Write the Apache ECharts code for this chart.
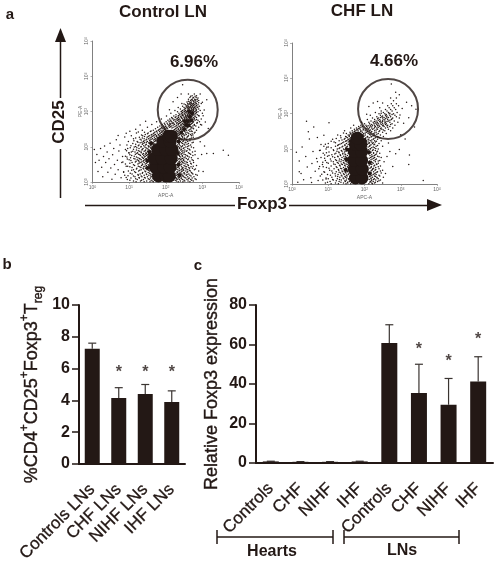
<!DOCTYPE html>
<html>
<head>
<meta charset="utf-8">
<style>
html, body { margin: 0; padding: 0; background: #fff; }
#chart { width: 498px; height: 566px; }
</style>
<script src="https://cdn.jsdelivr.net/npm/echarts@6/dist/echarts.min.js"></script>
</head>
<body>
<div id="chart"></div>
<script>
// flow plots: positions in decades (log10 of the signal)
const controlCore = [[1.8,.17],[2.0,.17],[2.1,.17],[1.72,.42],[1.95,.42],[2.12,.42],[1.68,.67],[1.9,.67],[2.15,.67],[1.78,.92],[2.0,.92],[2.17,.92],[1.92,1.15],[2.12,1.15],[2.08,1.3],[2.15,1.3]];
const controlMid = [[2.42,1.4],[2.5,1.5],[2.55,1.62],[2.6,1.72],[2.66,1.85],[2.72,1.95],[2.62,1.6],[2.7,1.75],[2.52,1.72],[2.64,2.0],[1.5,.6],[1.5,.4],[1.55,.85],[1.6,1.1],[2.35,.5],[2.33,.8],[2.35,1.15],[2.38,.2]];
const controlDots = [
[.05,.92],[.08,.55],[.12,.78],[.15,.3],[.18,.62],[.22,.95],[.25,.42],[.28,.15],[.3,.72],[.33,1.02],[.36,.55],[.4,.85],[.42,.28],[.45,.66],[.48,1.1],[.5,.4],[.53,.08],[.55,.77],[.58,.95],[.6,.5],[.62,.22],[.65,1.2],[.68,.62],[.7,.35],[.72,.88],[.75,1.05],[.78,.12],[.8,.55],[.82,.72],[.85,.28],[.88,1.28],[.9,.92],[.92,.45],[.95,.65],[.97,.18],[1.0,.82],
[3.12,.81],[3.3,.81],[3.57,.9],[3.71,.76],[2.46,2.76],[3.12,2.33],[2.2,2.28],[2.32,2.4],[2.1,2.05],[2.42,2.5],[.7,1.32],[.92,1.38],[1.02,1.44],[1.18,1.5],[1.3,1.62],[1.45,1.72],[1.25,1.42],[3.02,1.88],[3.05,2.04],[3.08,1.7],[3.16,1.52],[3.0,2.26],[2.98,1.62],[2.94,2.5],[3.06,1.02],[3.02,.3],[2.98,.78],[2.94,1.14]
];
// dense halo, one row per line: y first, then the x of the dots on that row
const controlRows = [
[.03,1.12,1.31,1.48,1.63,2.29,2.4,2.52,2.61,2.75],
[.07,.95,1.22,1.39,1.55,1.69,2.31,2.37,2.46,2.58,2.68,2.83],
[.11,1.05,1.28,1.44,1.58,1.7,2.28,2.35,2.43,2.55,2.64,2.72],
[.15,1.16,1.35,1.5,1.62,2.33,2.41,2.49,2.6,2.77],
[.19,.88,1.25,1.41,1.54,1.66,2.3,2.38,2.47,2.56,2.66,2.86],
[.23,1.08,1.3,1.47,1.59,2.34,2.44,2.52,2.63,2.74],
[.27,1.18,1.37,1.52,1.64,2.32,2.39,2.5,2.58,2.7],
[.31,.98,1.26,1.43,1.56,1.61,2.36,2.45,2.55,2.67,2.9],
[.35,1.12,1.33,1.49,1.6,2.33,2.42,2.48,2.6,2.78],
[.39,1.21,1.38,1.45,1.55,2.37,2.46,2.53,2.65,2.73],
[.43,1.02,1.29,1.4,1.52,1.58,2.35,2.43,2.57,2.69],
[.47,1.15,1.34,1.47,1.54,2.38,2.5,2.62,2.84],
[.51,.9,1.24,1.36,1.44,1.56,2.36,2.44,2.55,2.7],
[.55,1.08,1.3,1.41,1.5,2.39,2.47,2.59,2.76],
[.59,1.19,1.27,1.38,1.46,1.53,2.37,2.43,2.52,2.66],
[.63,1.0,1.22,1.33,1.43,1.49,2.4,2.49,2.6,2.72],
[.67,1.13,1.28,1.39,1.47,2.38,2.46,2.56,2.88],
[.71,.94,1.2,1.35,1.42,1.51,2.41,2.53,2.64],
[.75,1.07,1.31,1.4,1.48,1.55,2.37,2.45,2.58,2.74],
[.79,1.17,1.26,1.37,1.44,1.53,2.42,2.5,2.68],
[.83,.99,1.23,1.33,1.46,1.57,2.39,2.47,2.62],
[.87,1.1,1.29,1.41,1.5,1.59,2.36,2.44,2.56,2.8],
[.91,1.2,1.35,1.45,1.55,2.41,2.52,2.66],
[.95,.96,1.27,1.38,1.49,1.6,2.38,2.48,2.6],
[.99,1.14,1.32,1.43,1.54,1.62,2.42,2.55,2.7],
[1.03,1.05,1.25,1.4,1.52,1.58,2.39,2.46,2.63],
[1.07,1.18,1.36,1.47,1.61,1.66,2.37,2.5,2.58],
[1.11,1.3,1.42,1.54,1.63,2.43,2.53,2.72],
[1.15,.98,1.22,1.39,1.5,1.6,1.7,2.4,2.47,2.6],
[1.19,1.33,1.46,1.57,1.67,1.74,2.36,2.44,2.56],
[1.23,1.12,1.41,1.53,1.64,1.72,2.4,2.52,2.66],
[1.27,1.28,1.49,1.6,1.69,1.78,2.38,2.46,2.58,2.75],
[1.31,1.06,1.37,1.55,1.66,1.75,1.84,2.34,2.43,2.5,2.62,2.7],
[1.35,1.44,1.62,1.72,1.8,1.88,2.3,2.38,2.47,2.56,2.68],
[1.39,1.2,1.52,1.68,1.77,1.85,1.92,2.28,2.35,2.42,2.54,2.61,2.78],
[1.43,1.58,1.74,1.83,1.9,1.96,2.26,2.33,2.46,2.52,2.66,2.72],
[1.47,1.36,1.66,1.8,1.87,1.94,2.0,2.22,2.3,2.38,2.44,2.57,2.63,2.84],
[1.51,1.72,1.85,1.92,1.98,2.05,2.27,2.35,2.41,2.49,2.55,2.69,2.76],
[1.55,1.5,1.78,1.89,1.96,2.03,2.1,2.2,2.32,2.4,2.46,2.52,2.6,2.7,2.9],
[1.59,1.84,1.94,2.0,2.08,2.15,2.28,2.36,2.44,2.5,2.58,2.65,2.74,2.82],
[1.63,1.62,1.9,1.98,2.06,2.12,2.24,2.34,2.42,2.48,2.55,2.62,2.68,2.78,2.95],
[1.67,1.96,2.04,2.11,2.18,2.3,2.38,2.45,2.52,2.58,2.64,2.72,2.85],
[1.71,1.75,2.01,2.09,2.16,2.26,2.36,2.43,2.5,2.56,2.62,2.68,2.76,2.92],
[1.75,2.06,2.14,2.22,2.32,2.4,2.47,2.54,2.6,2.66,2.7,2.8,2.88],
[1.79,1.88,2.11,2.2,2.3,2.38,2.46,2.52,2.58,2.64,2.72,2.78,2.97],
[1.83,2.16,2.26,2.35,2.43,2.5,2.56,2.62,2.68,2.75,2.84],
[1.87,2.02,2.22,2.34,2.42,2.48,2.55,2.6,2.66,2.72,2.8,2.91],
[1.91,2.28,2.38,2.46,2.53,2.59,2.65,2.7,2.77,2.86],
[1.95,2.14,2.36,2.44,2.52,2.58,2.63,2.68,2.74,2.82,3.0],
[1.99,2.32,2.42,2.5,2.57,2.62,2.67,2.72,2.78,2.88],
[2.03,2.25,2.46,2.54,2.6,2.66,2.71,2.76,2.83,2.94],
[2.07,2.4,2.52,2.59,2.65,2.7,2.75,2.8,2.9],
[2.11,2.34,2.5,2.58,2.64,2.69,2.74,2.79,2.86],
[2.15,2.46,2.56,2.62,2.68,2.73,2.82,2.92],
[2.19,2.54,2.61,2.67,2.72,2.78,2.88],
[2.23,2.44,2.6,2.66,2.71,2.76,2.84,2.97],
[2.27,2.58,2.65,2.7,2.77,2.82],
[2.31,2.68,2.74,2.8,2.9],
[2.35,2.62,2.72,2.79,2.86],
[2.4,2.66,2.76,2.83],
[2.45,2.72,2.84]
];
// second pass over the same halo, denser close to the black core
const controlRows2 = [
[.01,1.57,1.41,2.34,1.66,2.66,1.19,2.47],
[.05,2.26,1.6,1.34,2.5,1.72,2.71,1.02],
[.09,1.65,2.42,1.18,2.3,1.52,2.62,2.8],
[.13,2.27,1.68,1.42,2.52,1.27,2.37,.92],
[.17,1.59,2.36,1.71,1.12,2.45,2.69,1.33],
[.21,2.32,1.63,1.24,1.48,2.58,2.41,2.82],
[.25,1.56,2.28,1.67,1.03,2.5,1.36,2.72],
[.29,2.31,1.62,1.45,2.43,1.15,2.6,.85],
[.33,1.53,2.38,1.66,1.29,2.49,2.65,1.07],
[.37,2.29,1.57,1.4,1.2,2.56,2.44,2.81],
[.41,1.63,2.33,1.5,2.47,1.08,2.63,1.32],
[.45,2.34,1.6,1.25,1.43,2.53,2.75,.96],
[.49,1.52,2.3,1.37,2.42,1.12,2.6,1.6],
[.53,2.33,1.57,1.47,1.27,2.5,2.68,1.02],
[.57,1.61,2.36,1.34,2.45,1.17,2.56,.83],
[.61,2.31,1.55,1.4,1.25,2.48,2.75,1.05],
[.65,1.58,2.35,1.45,2.43,1.16,2.62,1.3],
[.69,2.3,1.52,1.37,1.04,2.5,2.7,1.24],
[.73,1.57,2.38,1.44,2.46,1.14,2.6,.9],
[.77,2.34,1.6,1.29,1.5,2.54,2.8,1.02],
[.81,1.54,2.31,1.39,2.44,1.21,2.65,1.47],
[.85,2.36,1.62,1.33,1.06,2.51,2.73,1.16],
[.89,1.57,2.33,1.44,2.47,1.25,2.58,.93],
[.93,2.3,1.63,1.36,1.52,2.43,2.64,1.12],
[.97,1.59,2.37,1.46,2.5,1.21,2.76,1.03],
[1.01,2.34,1.66,1.33,1.54,2.44,2.6,1.18],
[1.05,1.62,2.32,1.45,2.52,1.27,2.68,.94],
[1.09,2.36,1.68,1.38,1.55,2.46,2.62,1.1],
[1.13,1.66,2.33,1.47,2.55,1.24,2.75,1.35],
[1.17,2.31,1.72,1.56,1.41,2.49,2.66,1.13],
[1.21,1.7,2.37,1.48,2.57,1.3,2.44,1.6],
[1.25,2.34,1.76,1.57,1.36,2.51,2.7,1.18],
[1.29,1.74,2.3,1.63,2.45,1.42,2.6,1.52],
[1.33,2.36,1.8,1.6,2.52,1.34,2.74,1.7],
[1.37,1.84,2.33,1.66,2.48,1.5,2.63,2.72],
[1.41,2.3,1.88,1.7,2.44,1.42,2.58,2.8],
[1.45,1.92,2.36,1.76,2.5,2.28,2.7,1.6],
[1.49,2.24,1.97,1.82,2.53,2.41,2.66,2.34],
[1.53,2.02,2.3,1.88,2.58,2.44,2.74,2.17],
[1.57,2.25,1.99,2.37,2.56,2.13,2.48,2.68],
[1.61,2.1,2.41,2.3,2.63,2.2,2.53,2.78],
[1.65,2.47,2.14,2.6,2.35,2.7,2.22,2.56],
[1.69,2.2,2.54,2.4,2.66,2.31,2.74,2.86],
[1.73,2.58,2.28,2.46,2.72,2.36,2.64,2.12],
[1.77,2.35,2.63,2.5,2.25,2.74,2.57,2.84],
[1.81,2.66,2.44,2.18,2.58,2.78,2.32,2.52],
[1.85,2.4,2.7,2.53,2.28,2.64,2.8,2.58],
[1.89,2.6,2.46,2.74,2.35,2.68,2.55,2.9],
[1.93,2.5,2.72,2.62,2.42,2.8,2.66],
[1.97,2.7,2.55,2.46,2.76,2.64,2.84],
[2.01,2.58,2.74,2.43,2.68,2.82,2.52],
[2.05,2.76,2.63,2.5,2.84,2.72],
[2.09,2.62,2.82,2.7,2.54,2.76],
[2.13,2.78,2.66,2.88,2.6],
[2.17,2.7,2.58,2.84,2.76],
[2.21,2.82,2.64,2.74,2.5],
[2.25,2.68,2.9,2.8],
[2.29,2.76,2.62,2.86],
[2.33,2.82,2.7],
[2.38,2.74,2.88],
[2.43,2.8,2.68],
[2.5,2.78,2.62]
];
const chfCore = [[1.75,.17],[1.93,.17],[1.72,.42],[1.94,.42],[1.7,.67],[1.92,.67],[1.72,.92],[1.92,.92],[1.75,1.12],[1.9,1.12],[1.8,1.3]];
const chfMid = [[1.48,.4],[1.5,.7],[1.52,.98],[2.14,.3],[2.14,.6],[2.12,.9],[2.0,1.25],[1.62,1.22]];
const chfDots = [
[.12,.9],[.2,.65],[.25,.3],[.28,1.05],[.32,.12],[.38,.78],[.42,.48],[.45,1.48],[.48,1.28],[.52,.18],[.55,.58],[.58,.92],[.6,1.62],[.64,.36],[.68,.72],[.7,1.32],[.72,.1],[.76,.5],[.78,.96],[.8,1.12],[.82,.28],[.85,.62],[.88,1.38],[.9,.82],[.94,.14],[.96,1.04],[1.02,1.74],[.4,1.78],[.2,.35],[.16,.05],[.54,.04],
[3.24,.82],[3.22,.55],[3.62,.1],[2.96,.98],[2.86,.86],[2.78,.5],[2.7,.92],[2.62,.78],[2.58,.3],[2.66,1.16],
[2.74,2.84],[2.96,2.53],[2.88,2.44],[3.16,2.32],[3.3,2.22],[3.42,2.12],[3.38,1.62],[3.22,1.88],[3.08,1.72],[3.12,1.28],[2.06,1.98],[2.12,2.2],[2.24,2.3],[2.36,2.34],[2.5,2.3],[2.72,2.44],[2.86,2.6],[3.0,1.4],[3.04,2.14],[2.98,1.96]
];
const chfRows = [
[.03,.92,1.2,1.42,1.54,2.2,2.28,2.5],
[.07,1.05,1.3,1.47,1.58,2.16,2.24,2.36],
[.11,.85,1.14,1.36,1.5,2.2,2.31,2.44],
[.15,1.0,1.25,1.43,1.56,2.18,2.27,2.38],
[.19,1.1,1.32,1.48,2.22,2.34,2.52],
[.23,.78,1.2,1.38,1.52,2.17,2.28,2.42],
[.27,.98,1.27,1.44,1.55,2.24,2.32],
[.31,1.12,1.34,1.49,2.19,2.3,2.46],
[.35,.88,1.22,1.4,1.53,2.25,2.36],
[.39,1.04,1.29,1.45,2.2,2.29,2.5],
[.43,.74,1.16,1.37,1.5,2.23,2.4],
[.47,.95,1.24,1.42,1.55,2.18,2.31],
[.51,1.08,1.33,1.47,2.26,2.44],
[.55,.84,1.19,1.39,1.52,2.2,2.34],
[.59,1.0,1.28,1.44,2.24,2.38],
[.63,.7,1.14,1.35,1.5,2.19,2.3,2.54],
[.67,.92,1.23,1.41,1.54,2.26,2.42],
[.71,1.06,1.31,1.46,2.21,2.33],
[.75,.8,1.18,1.38,1.51,2.17,2.28,2.46],
[.79,.98,1.26,1.43,2.23,2.36],
[.83,1.1,1.33,1.48,2.2,2.3],
[.87,.86,1.21,1.4,1.55,2.25,2.42],
[.91,1.02,1.29,1.45,2.18,2.34],
[.95,.76,1.15,1.36,1.52,2.22,2.3],
[.99,.94,1.25,1.42,1.56,2.16,2.38],
[1.03,1.08,1.32,1.49,2.2,2.27],
[1.07,.88,1.2,1.4,1.53,2.14,2.32,2.5],
[1.11,1.28,1.46,1.58,2.18,2.26],
[1.15,1.0,1.36,1.5,1.6,2.12,2.22,2.4],
[1.19,1.16,1.43,1.55,1.63,2.1,2.2,2.3],
[1.23,1.3,1.5,1.6,2.06,2.16,2.28,2.46],
[1.27,1.12,1.44,1.56,1.66,2.1,2.24,2.36],
[1.31,1.35,1.53,1.62,2.04,2.13,2.3,2.42],
[1.35,1.48,1.58,1.68,1.98,2.08,2.2,2.35,2.52],
[1.39,1.26,1.55,1.64,1.72,1.94,2.02,2.16,2.28,2.44],
[1.43,1.5,1.62,1.7,1.78,1.88,1.98,2.1,2.24,2.38,2.6],
[1.47,1.6,1.68,1.76,1.84,1.94,2.06,2.18,2.32,2.5],
[1.51,1.45,1.66,1.74,1.82,1.9,2.02,2.14,2.28,2.42,2.56,2.72],
[1.55,1.72,1.8,1.88,1.98,2.1,2.22,2.36,2.48,2.66],
[1.59,1.62,1.78,1.86,1.96,2.08,2.2,2.34,2.46,2.58,2.78],
[1.63,1.84,1.94,2.06,2.18,2.3,2.42,2.54,2.7],
[1.67,1.7,1.9,2.04,2.16,2.28,2.4,2.52,2.64,2.84],
[1.71,2.0,2.14,2.26,2.38,2.5,2.6,2.76],
[1.75,1.92,2.12,2.24,2.36,2.48,2.58,2.7,2.92],
[1.79,2.18,2.32,2.44,2.56,2.66,2.82],
[1.83,2.08,2.28,2.42,2.54,2.64,2.74],
[1.87,2.22,2.38,2.5,2.62,2.78,2.96],
[1.91,2.34,2.48,2.6,2.72,2.88],
[1.95,2.16,2.44,2.58,2.7,2.84],
[1.99,2.4,2.56,2.68,2.8],
[2.03,2.3,2.52,2.66,2.9],
[2.07,2.46,2.62,2.76],
[2.11,2.58,2.72,2.86],
[2.16,2.42,2.68,2.82],
[2.22,2.64,2.78,2.94],
[2.28,2.74,2.88],
[2.36,2.8]
];
const chfRows2 = [
[.01,1.49,2.12,1.28,1.62,2.22,1.08],
[.05,2.15,1.53,1.35,2.3,.98],
[.09,1.46,2.19,1.6,1.22,2.4],
[.13,2.13,1.57,1.31,2.25,1.12],
[.17,1.51,2.18,1.41,2.35,.94],
[.21,2.14,1.46,1.26,1.6,2.3],
[.25,1.5,2.2,1.36,2.4,1.06],
[.29,2.16,1.57,1.19,1.42,2.27],
[.33,1.47,2.13,1.3,2.34,.9],
[.37,2.18,1.53,1.38,1.1,2.44],
[.41,1.56,2.22,1.28,2.31,1.44],
[.45,2.15,1.48,1.34,1.02,2.25],
[.49,1.53,2.19,1.22,2.38,.86],
[.53,2.13,1.45,1.31,1.56,2.28],
[.57,1.49,2.17,1.15,2.33,1.36],
[.61,2.21,1.55,1.25,1.42,.96],
[.65,1.47,2.14,1.3,2.38,1.08],
[.69,2.18,1.52,1.2,1.36,2.3],
[.73,1.56,2.13,1.44,2.25,.9],
[.77,2.2,1.48,1.27,1.12,2.4],
[.81,1.53,2.15,1.34,2.27,1.02],
[.85,2.12,1.46,1.18,1.4,2.33],
[.89,1.57,2.17,1.3,2.25,.95],
[.93,2.14,1.49,1.24,1.38,2.36],
[.97,1.54,2.11,1.44,2.24,1.14],
[1.01,2.16,1.58,1.3,1.48,2.31],
[1.05,1.5,2.1,1.38,2.24,1.0],
[1.09,2.15,1.6,1.26,1.46,2.36],
[1.13,1.55,2.08,1.32,2.28,.92],
[1.17,2.14,1.63,1.4,1.2,2.24],
[1.21,1.58,2.05,1.48,2.33,1.08],
[1.25,2.12,1.66,1.38,1.54,2.2],
[1.29,1.6,2.02,1.46,2.26,1.22],
[1.33,2.09,1.66,1.5,2.18,2.38],
[1.37,1.7,1.98,1.58,2.24,1.34],
[1.41,1.96,1.76,1.6,2.14,2.34],
[1.45,1.66,1.86,2.02,2.28,1.42],
[1.49,1.9,1.72,2.08,2.2,2.4],
[1.53,1.78,1.96,2.16,2.32,2.52],
[1.57,2.04,1.84,2.26,2.12,2.44],
[1.61,1.9,2.14,2.28,2.38,2.64],
[1.65,2.1,2.22,2.36,2.5,2.62],
[1.69,2.2,2.34,2.46,2.58,2.72],
[1.73,2.3,2.44,2.56,2.34],
[1.77,2.42,2.28,2.62,2.5],
[1.81,2.5,2.38,2.7],
[1.85,2.36,2.58,2.76],
[1.89,2.54,2.44,2.66],
[1.93,2.62,2.5],
[1.97,2.76,2.6],
[2.01,2.46,2.7]
];

const decadeTicks = ['0', '1', '2', '3', '4'];

const bCategories = ['Controls LNs', 'CHF LNs', 'NIHF LNs', 'IHF LNs'];
const bValues = [7.25, 4.15, 4.4, 3.9];
const bUpper = [7.6, 4.8, 5.0, 4.6];
const bStars = [null, 5.8, 5.8, 5.8];

const cCategories = ['Controls', 'CHF', 'NIHF', 'IHF', 'Controls', 'CHF', 'NIHF', 'IHF'];
const cValues = [0.8, 0.6, 0.6, 0.8, 60.8, 35.5, 29.5, 41.3];
const cUpper = [0.9, 0.7, 0.7, 0.9, 70, 50, 42.8, 53.8];
const cStars = [null, null, null, null, null, 58, 51.7, 63];

const ink = '#231815';
const font = '"Liberation Sans", Arial, sans-serif';

function flattenRows(rows) {
    return rows.flatMap(r => r.slice(1).map(x => [x, r[0]]));
}

function flowAxis(grid, name, isY) {
    return {
        type: 'value', gridIndex: grid, min: 0, max: 4, interval: 1,
        name: name, nameLocation: 'middle', nameGap: isY ? 9 : 11,
        nameTextStyle: { fontSize: 5, color: '#666', fontFamily: font },
        axisLine: { show: true, lineStyle: { color: '#808080', width: 1 } },
        axisTick: { show: true, length: 2, lineStyle: { color: '#808080', width: 0.6 } },
        splitLine: { show: false },
        axisLabel: {
            fontSize: 5, color: '#666', margin: 3, rotate: isY ? 90 : 0, fontFamily: font,
            formatter: v => '10{s|' + decadeTicks[v] + '}',
            rich: { s: { fontSize: 3.5, color: '#666', verticalAlign: 'top' } }
        }
    };
}

function flowSeries(grid, core, mid, dots, gate) {
    const base = { type: 'scatter', xAxisIndex: grid, yAxisIndex: grid, silent: true, itemStyle: { color: ink, opacity: 1 } };
    return [
        { ...base, data: dots, symbolSize: 1.5 },
        { ...base, data: mid, symbolSize: 4 },
        { ...base, data: core, symbolSize: 13 },
        {
            ...base, data: [gate], symbolSize: 60, z: 5,
            itemStyle: { color: 'transparent', borderColor: ink, borderWidth: 2 }
        }
    ];
}

function errorSeries(grid, values, upper) {
    return {
        type: 'custom', xAxisIndex: grid, yAxisIndex: grid, silent: true, z: 1,
        data: values.map((v, i) => [i, v, upper[i]]),
        renderItem(params, api) {
            const a = api.coord([api.value(0), api.value(1)]);
            const b = api.coord([api.value(0), api.value(2)]);
            const style = { stroke: '#3a3431', lineWidth: 1.2, fill: null };
            return {
                type: 'group',
                children: [
                    { type: 'line', shape: { x1: a[0], y1: a[1], x2: b[0], y2: b[1] }, style },
                    { type: 'line', shape: { x1: b[0] - 4, y1: b[1], x2: b[0] + 4, y2: b[1] }, style }
                ]
            };
        }
    };
}

function starSeries(grid, stars) {
    return {
        type: 'scatter', xAxisIndex: grid, yAxisIndex: grid, silent: true, symbolSize: 1,
        itemStyle: { color: 'transparent' },
        data: stars.map((v, i) => v === null ? null : [i, v]).filter(Boolean),
        label: { show: true, position: 'inside', offset: [0, 1], formatter: '*', fontSize: 16, fontWeight: 'bold', fontFamily: font, color: ink }
    };
}

function barCatAxis(grid, cats) {
    return {
        type: 'category', gridIndex: grid, data: cats,
        axisLine: { lineStyle: { color: ink, width: 2 } },
        axisTick: { alignWithLabel: true, length: 6, lineStyle: { color: ink, width: 1.5 } },
        axisLabel: {
            rotate: 45, interval: 0, fontSize: 17, color: ink, fontFamily: font, margin: 23,
            textBorderColor: ink, textBorderWidth: 0.3
        }
    };
}

function barValAxis(grid, max, interval, name, nameGap, extra) {
    return {
        type: 'value', gridIndex: grid, min: 0, max: max, interval: interval,
        name: name, nameLocation: 'middle', nameGap: nameGap,
        nameTextStyle: { color: ink, fontFamily: font, textBorderColor: ink, textBorderWidth: 0.4, ...extra },
        axisLine: { show: true, lineStyle: { color: ink, width: 2 } },
        axisTick: { show: true, length: 7, lineStyle: { color: ink, width: 1.5 } },
        splitLine: { show: false },
        axisLabel: { fontSize: 16, fontWeight: 'bold', color: ink, fontFamily: font, margin: 9 }
    };
}

function label(text, x, y, size, rotation) {
    return {
        type: 'text', x: x, y: y, rotation: rotation || 0, silent: true,
        style: { text: text, fill: ink, font: `bold ${size}px ${font}`, textAlign: 'center', textVerticalAlign: 'middle' }
    };
}

function segment(x1, y1, x2, y2, width) {
    return { type: 'line', silent: true, shape: { x1, y1, x2, y2 }, style: { stroke: ink, lineWidth: width } };
}

function head(points) {
    return { type: 'polygon', silent: true, shape: { points }, style: { fill: ink } };
}

const supRich = {
    t: { fontSize: 18, lineHeight: 26, color: ink, fontFamily: font, textBorderColor: ink, textBorderWidth: 0.4 },
    sup: { fontSize: 12, color: ink, fontFamily: font, verticalAlign: 'top', textBorderColor: ink, textBorderWidth: 0.4 },
    sub: { fontSize: 12, color: ink, fontFamily: font, verticalAlign: 'bottom' }
};

const chart = echarts.init(document.getElementById('chart'), null, { renderer: 'canvas' });
chart.setOption({
    animation: false,
    backgroundColor: '#fff',
    grid: [
        { left: 92.5, top: 41, width: 146.5, height: 141 },
        { left: 292, top: 43, width: 145, height: 141 },
        { left: 79, top: 305, width: 106, height: 159 },
        { left: 256, top: 305, width: 237, height: 158 }
    ],
    xAxis: [
        flowAxis(0, 'APC-A', false),
        flowAxis(1, 'APC-A', false),
        barCatAxis(2, bCategories),
        barCatAxis(3, cCategories)
    ],
    yAxis: [
        flowAxis(0, 'PE-A', true),
        flowAxis(1, 'PE-A', true),
        barValAxis(2, 10, 2, '{t|%CD4}{sup|+}{t|CD25}{sup|+}{t|Foxp3}{sup|+}{t|T}{sub|reg}', 34, { rich: supRich }),
        barValAxis(3, 80, 20, 'Relative Foxp3 expression', 35, { fontSize: 18 })
    ],
    series: [
        ...flowSeries(0, controlCore, controlMid, controlDots.concat(flattenRows(controlRows), flattenRows(controlRows2)), [2.6, 2.05]),
        ...flowSeries(1, chfCore, chfMid, chfDots.concat(flattenRows(chfRows), flattenRows(chfRows2)), [2.65, 2.13]),
        { type: 'bar', xAxisIndex: 2, yAxisIndex: 2, data: bValues, barWidth: 15, z: 2, itemStyle: { color: ink }, silent: true },
        errorSeries(2, bValues, bUpper),
        starSeries(2, bStars),
        { type: 'bar', xAxisIndex: 3, yAxisIndex: 3, data: cValues, barWidth: 16, z: 2, itemStyle: { color: ink }, silent: true },
        errorSeries(3, cValues, cUpper),
        starSeries(3, cStars)
    ],
    graphic: [
        label('a', 10, 15, 15),
        label('b', 7, 265, 15),
        label('c', 198, 266, 15),
        label('Control LN', 163, 12, 17),
        label('CHF LN', 362, 11, 17),
        label('6.96%', 194, 62, 17),
        label('4.66%', 394, 61, 17),
        label('CD25', 59, 122, 17, Math.PI / 2),
        label('Foxp3', 262, 204, 17),
        label('Hearts', 272, 552, 16),
        label('LNs', 402, 551, 16),
        segment(60.5, 198, 60.5, 149, 1.5),
        segment(60.5, 98, 60.5, 42, 1.5),
        head([[60.5, 28], [55, 42], [66, 42]]),
        segment(85, 205.5, 235, 205.5, 1.5),
        segment(289, 205.5, 428, 205.5, 1.5),
        head([[442, 205], [427, 199], [427, 211]]),
        segment(217, 537, 333, 537, 1.5),
        segment(217, 530, 217, 544, 1.5),
        segment(333, 530, 333, 544, 1.5),
        segment(344, 537, 459, 537, 1.5),
        segment(344, 530, 344, 544, 1.5),
        segment(459, 530, 459, 544, 1.5)
    ]
});
</script>
</body>
</html>
